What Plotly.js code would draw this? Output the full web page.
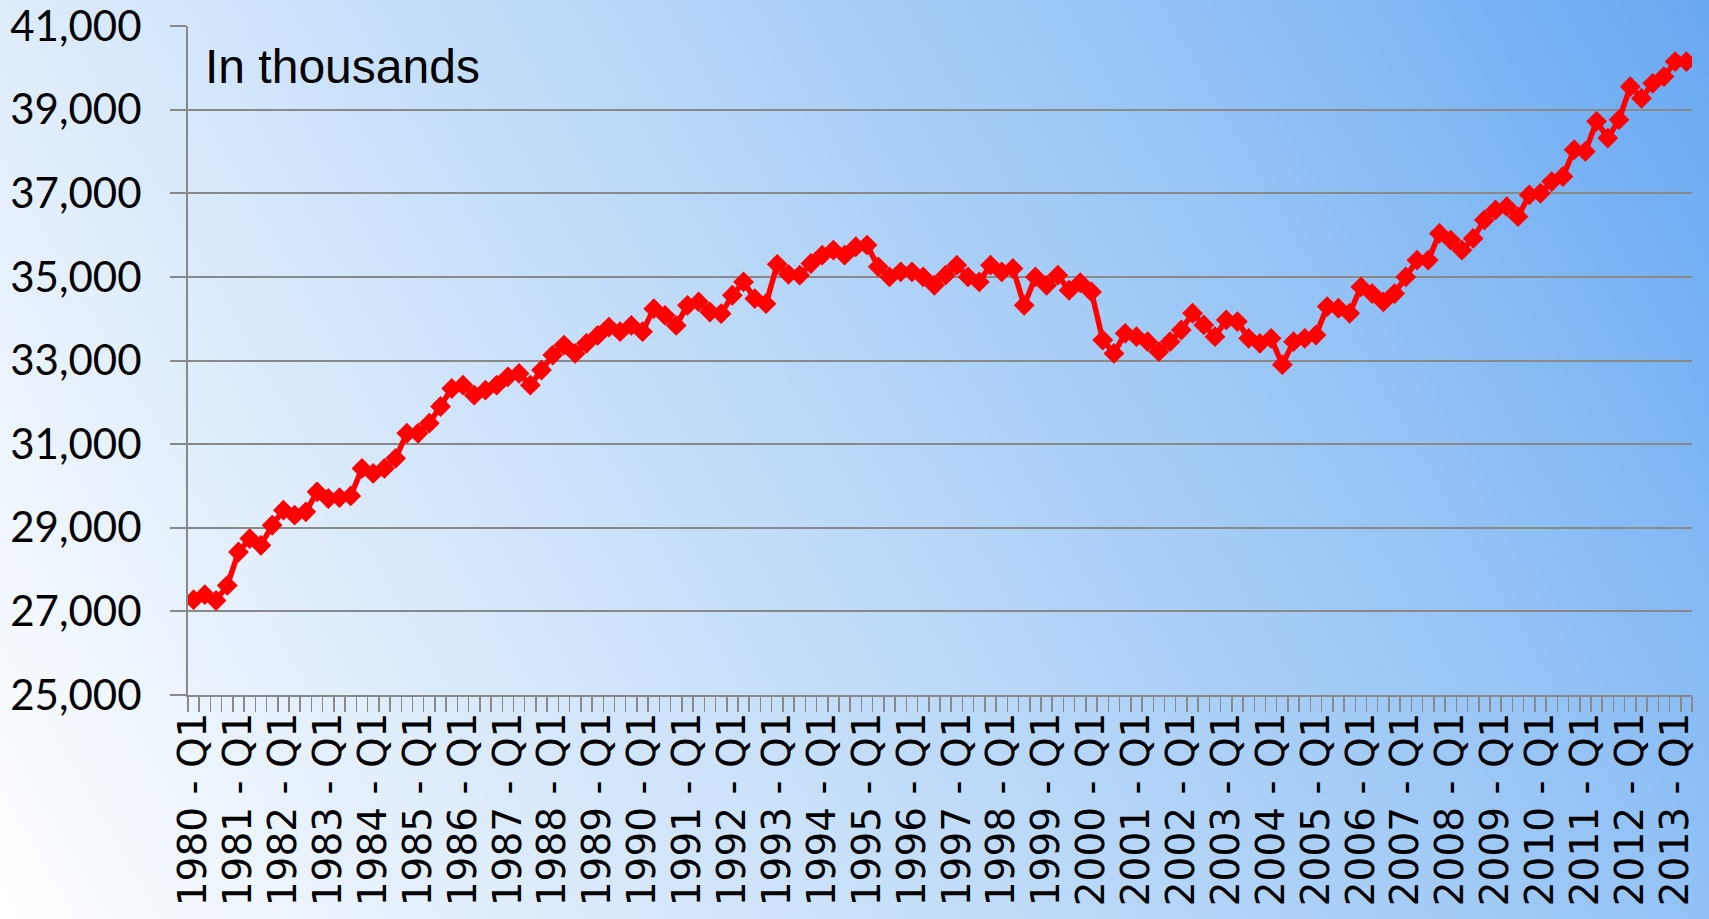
<!DOCTYPE html>
<html>
<head>
<meta charset="utf-8">
<script src="https://cdn.plot.ly/plotly-3.0.1.min.js"></script>
<style>
  html, body { margin: 0; padding: 0; width: 1709px; height: 919px; overflow: hidden; }
  body { background: linear-gradient(60deg, #ffffff 0%, #dcebfb 25%, #b9d8f8 50%, #94c3f5 75%, #68a8f2 100%); }
  #chart { width: 1709px; height: 919px; }
</style>
</head>
<body>
<div id="chart"></div>
<script>
// Years and quarters forming the categories (1980 Q1 .. 2013 Q2)
const years = [1980,1981,1982,1983,1984,1985,1986,1987,1988,1989,1990,1991,1992,1993,1994,1995,1996,1997,1998,1999,2000,2001,2002,2003,2004,2005,2006,2007,2008,2009,2010,2011,2012,2013];
const quarters = ["Q1","Q2","Q3","Q4"];
const lastYearQuarters = 2;

// Series values (in thousands)
const values = [
  27280, 27400, 27260, 27620,
  28420, 28740, 28580, 29060,
  29420, 29300, 29380, 29860,
  29700, 29720, 29760, 30420,
  30300, 30420, 30660, 31260,
  31260, 31500, 31900, 32330,
  32410, 32170, 32290, 32410,
  32610, 32690, 32410, 32770,
  33130, 33370, 33170, 33410,
  33600, 33800, 33690, 33840,
  33690, 34240, 34080, 33840,
  34320, 34400, 34160, 34120,
  34560, 34880, 34480, 34360,
  35300, 35060, 35040, 35320,
  35520, 35640, 35520, 35720,
  35760, 35240, 35000, 35120,
  35120, 35000, 34800, 35040,
  35280, 35000, 34880, 35280,
  35120, 35200, 34320, 35000,
  34800, 35040, 34680, 34860,
  34640, 33490, 33170, 33650,
  33570, 33450, 33210, 33450,
  33730, 34130, 33850, 33570,
  33970, 33930, 33530, 33410,
  33530, 32900, 33450, 33530,
  33610, 34290, 34250, 34130,
  34760, 34600, 34400, 34600,
  35000, 35400, 35400, 36040,
  35880, 35640, 35920, 36360,
  36600, 36680, 36440, 36960,
  37000, 37280, 37400, 38040,
  38000, 38720, 38320, 38760,
  39550, 39270, 39630, 39790,
  40150, 40150
];

const yTicks = [25000, 27000, 29000, 31000, 33000, 35000, 37000, 39000, 41000];
const noteText = "In thousands";

// Build category labels
const categories = [];
years.forEach((y, yi) => {
  const nq = (yi === years.length - 1) ? lastYearQuarters : 4;
  for (let q = 0; q < nq; q++) categories.push(y + " - " + quarters[q]);
});
// Tick labels only on Q1 categories
const tickText = categories.map(c => c.endsWith("Q1") ? c : "");

const gray = "#898989";

const trace = {
  type: "scatter",
  mode: "lines+markers",
  x: categories,
  y: values,
  line: { color: "#ff0000", width: 5.5 },
  marker: { symbol: "diamond", size: 16, color: "#ff0000" },
  hoverinfo: "x+y"
};

const layout = {
  width: 1709,
  height: 919,
  margin: { l: 188, r: 17, t: 26, b: 224, pad: 0 },
  paper_bgcolor: "rgba(0,0,0,0)",
  plot_bgcolor: "rgba(0,0,0,0)",
  showlegend: false,
  xaxis: {
    type: "category",
    categoryorder: "array",
    categoryarray: categories,
    range: [-0.5, categories.length - 0.5],
    tickmode: "array",
    tickvals: categories,
    ticktext: tickText,
    tickson: "boundaries",
    ticks: "outside",
    ticklen: 15,
    tickwidth: 1.5,
    tickcolor: gray,
    tickangle: -90,
    ticklabeloverflow: "allow",
    tickfont: { family: "'DejaVu Sans', sans-serif", size: 39, color: "#000000" },
    showline: true,
    linecolor: gray,
    linewidth: 2,
    showgrid: false,
    zeroline: false
  },
  yaxis: {
    range: [25000, 41000],
    tickmode: "array",
    tickvals: yTicks,
    tickformat: ",d",
    ticks: "outside",
    ticklen: 16,
    tickwidth: 2,
    tickcolor: gray,
    tickfont: { family: "Lato, 'Open Sans', sans-serif", size: 42, color: "#000000" },
    ticklabelstandoff: 20,
    ticklabeloverflow: "allow",
    showline: true,
    linecolor: gray,
    linewidth: 2,
    showgrid: true,
    gridcolor: gray,
    gridwidth: 2,
    zeroline: false
  },
  annotations: [{
    text: noteText,
    xref: "paper", yref: "paper",
    x: 0.010, y: 0.940,
    xanchor: "left", yanchor: "middle",
    showarrow: false,
    font: { family: "'Liberation Sans', Arial, sans-serif", size: 48, color: "#000000" }
  }]
};

Plotly.newPlot("chart", [trace], layout, { displayModeBar: false, staticPlot: true });
</script>
</body>
</html>
